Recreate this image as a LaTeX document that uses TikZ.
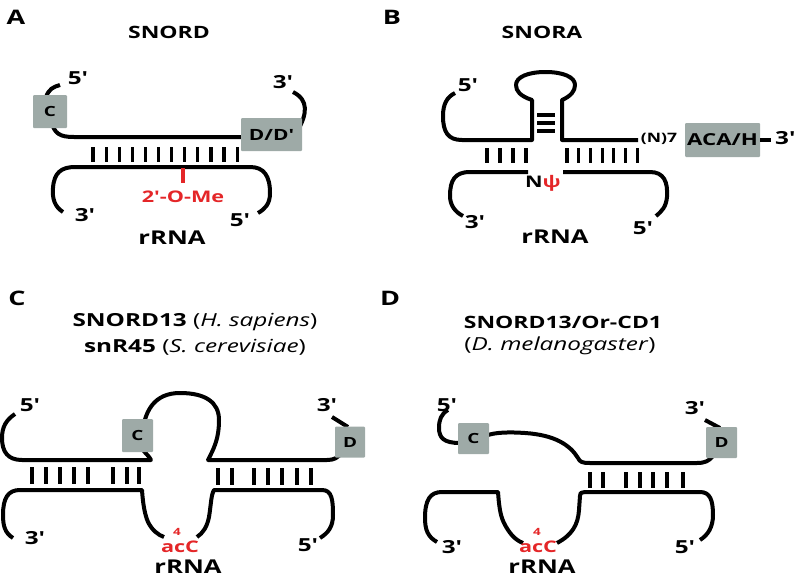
\documentclass[tikz,border=0pt]{standalone}
\usepackage{fontspec}
\setmainfont{Open Sans}[FakeStretch=1.35]
\usetikzlibrary{positioning}
\definecolor{boxgray}{RGB}{158,170,167}
\definecolor{modred}{RGB}{228,38,40}
\tikzset{strand/.style={line width=4pt, line join=round},
         pair/.style={line width=3.2pt},
         motif/.style={fill=boxgray, rounded corners=1pt, inner sep=0pt, font=\bfseries\fontsize{14}{14}\selectfont},
         lab/.style={font=\bfseries\fontsize{18}{18}\selectfont, inner sep=0pt},
         title/.style={font=\bfseries\fontsize{17}{17}\selectfont, inner sep=0pt},
         panel/.style={font=\bfseries\fontsize{20}{20}\selectfont, inner sep=0pt},
         mod/.style={font=\bfseries\fontsize{16}{16}\selectfont, text=modred, inner sep=0pt}}
\begin{document}
\begin{tikzpicture}[x=1pt, y=-1pt]
\useasboundingbox (0,0) rectangle (796,581);
% A: SNORD
\node[panel] (pA) at (16,17) {A};
\node[title] (tA) at (169,32) {SNORD};
\draw[strand] (46,97) .. controls (49,89) and (53,87) .. (60,85);
\draw[strand] (51,120) .. controls (54,134) and (60,137) .. (74,137) -- (250,137);
\draw[strand] (298,130) .. controls (307,114) and (309,100) .. (293,92);
\foreach \i in {0,...,11} \draw[pair] (93+\i*13.1,147) -- ++(0,15);
\draw[strand] (63,212) .. controls (55,207) and (52,199) .. (53,188) .. controls (54,173) and (61,167) .. (75,167) -- (250,167) .. controls (264,167) and (270,176) .. (270,193) .. controls (270,204) and (265,209) .. (258,213);
\draw[strand, modred] (183,168) -- (183,183);
\node[motif, minimum width=34pt, minimum height=33pt] (cA) at (50,111.5) {C};
\node[motif, minimum width=61pt, minimum height=33pt, font=\bfseries\fontsize{15.5}{15.5}\selectfont] (dA) at (271.5,134.5) {D/D′};
\node[lab] (fiveA) at (78,78) {5′};
\node[lab] (threeA) at (283,82) {3′};
\node[mod] (meA) at (183,197) {2′-O-Me};
\node[lab] (rthreeA) at (85,215) {3′};
\node[lab] (rfiveA) at (240,220) {5′};
\node[lab, font=\bfseries\fontsize{19}{19}\selectfont] (rA) at (172,238) {rRNA};
% B: SNORA
\node[panel] (pB) at (392,17) {B};
\node[title] (tB) at (542,32) {SNORA};
\draw[strand] (455,93) .. controls (447,97) and (443,104) .. (443,116) .. controls (443,132) and (448,140) .. (462,140) -- (532,140) -- (532,100) .. controls (520,96) and (516,91) .. (516,85) .. controls (516,77) and (528,72) .. (545.5,72) .. controls (563,72) and (575,77) .. (575,85) .. controls (575,91) and (571,96) .. (562,100) -- (562,140) -- (638,140);
\foreach \y in {115,123,131} \draw[line width=3.2pt] (537,\y) -- (555,\y);
\foreach \x in {487,500,513,526} \draw[pair] (\x,148) -- ++(0,15);
\foreach \i in {0,...,6} \draw[pair] (567+\i*11.7,148) -- ++(0,15);
\draw[strand] (463,216) .. controls (455,212) and (450,205) .. (450,196) .. controls (450,180) and (455,172) .. (470,172) -- (528,172);
\draw[strand] (563,172) -- (650,172) .. controls (664,172) and (668,182) .. (667,197) .. controls (666,207) and (662,211) .. (656,216);
\node[motif, minimum width=75pt, minimum height=34pt, font=\bfseries\fontsize{16.5}{16.5}\selectfont] (acaB) at (722.5,140) {ACA/H};
\coordinate (endB) at (771,140);
\draw[strand] (acaB.east) -- (endB);
\node[lab, font=\bfseries\fontsize{13}{13}\selectfont] (nB) at (659,139) {(N)7};
\node[lab, anchor=west] (threeB) at (775,138) {3′};
\node[lab] (fiveB) at (468,85) {5′};
\node[lab, font=\bfseries\fontsize{16}{16}\selectfont] (psiB) at (543,183) {N\textcolor{modred}{ψ}};
\node[lab] (rthreeB) at (475,222) {3′};
\node[lab] (rfiveB) at (643,228) {5′};
\node[lab, font=\bfseries\fontsize{19}{19}\selectfont] (rB) at (555,237) {rRNA};
% C: SNORD13 / snR45
\node[panel] (pC) at (17,298) {C};
\node[title, font=\bfseries\fontsize{18}{18}\selectfont] (tC) at (195,322) {SNORD13 \mdseries(\textit{H. sapiens})};
\node[title, font=\bfseries\fontsize{18}{18}\selectfont] (tC2) at (195,347) {snR45 \mdseries(\textit{S. cerevisiae})};
\draw[strand] (15,414) .. controls (6,420) and (2,427) .. (2,438) .. controls (2,452) and (8,460) .. (22,460) -- (151,460) .. controls (149,456) and (146,454) .. (143,450);
\draw[strand] (142,440) .. controls (143,410) and (155,393) .. (180,393) .. controls (205,393) and (219,402) .. (219,420) .. controls (219,440) and (213,450) .. (208,460) -- (327,460) .. controls (334,460) and (338,458) .. (342,452);
\draw[strand] (332,417) -- (348,427);
\foreach \x in {32,46,60,74,88,113,127,139} \draw[pair] (\x,467) -- ++(0,17);
\foreach \x in {218,232,254,268,282,297,311} \draw[pair] (\x,468) -- ++(0,17);
\draw[strand] (13,538) .. controls (5,533) and (3,526) .. (3,515) .. controls (3,498) and (8,490) .. (20,490) -- (142,490) .. controls (143,505) and (145,515) .. (148,522) .. controls (152,530) and (158,535) .. (164,537);
\draw[strand] (197,537) .. controls (203,533) and (207,527) .. (209,517) .. controls (211,505) and (211,495) .. (214,490) -- (322,490) .. controls (332,490) and (333,500) .. (333,515) .. controls (333,527) and (328,533) .. (320,538);
\node[motif, minimum width=31pt, minimum height=33pt] (cC) at (137.5,435.5) {C};
\node[motif, minimum width=30pt, minimum height=31pt] (dC) at (350,442) {D};
\node[lab] (fiveC) at (30,405) {5′};
\node[lab] (threeC) at (327,405) {3′};
\node[mod] (acC) at (180,547) {acC};
\node[mod, font=\bfseries\fontsize{10}{10}\selectfont] (fourC) at (177,532) {4};
\node[lab] (rthreeC) at (35,538) {3′};
\node[lab] (rfiveC) at (308,545) {5′};
\node[lab, font=\bfseries\fontsize{19}{19}\selectfont] (rC) at (188,567) {rRNA};
% D: SNORD13/Or-CD1
\node[panel] (pD) at (390,298) {D};
\node[title] (tD) at (563,322) {SNORD13/Or-CD1};
\node[title, font=\fontsize{18}{18}\selectfont] (tD2) at (560,346) {(\textit{D. melanogaster})};
\draw[strand] (448,410) .. controls (441,414) and (439,420) .. (439,428) .. controls (439,438) and (444,443) .. (460,443);
\draw[strand] (485,436) .. controls (495,432) and (510,432) .. (525,433) .. controls (555,435) and (570,445) .. (578,458) .. controls (580,462) and (582,463) .. (590,463) -- (697,463) .. controls (705,463) and (709,461) .. (713,456);
\draw[strand] (705,420) -- (720,428);
\foreach \x in {590,603,626,640,653,667,683} \draw[pair] (\x,472) -- ++(0,16);
\draw[strand] (437,542) .. controls (428,537) and (425,530) .. (425,518) .. controls (425,500) and (430,492) .. (442,492) -- (498,492) .. controls (499,505) and (500,515) .. (504,523) .. controls (509,533) and (515,540) .. (523,543);
\draw[strand] (557,543) .. controls (572,535) and (578,525) .. (579,510) -- (580,496) .. controls (580,493) .. (585,492) -- (700,492) .. controls (710,492) and (713,500) .. (713,515) .. controls (713,527) and (708,535) .. (700,540);
\node[motif, minimum width=31pt, minimum height=31pt] (cD) at (473.5,438.5) {C};
\node[motif, minimum width=31pt, minimum height=31pt] (dD) at (721.5,442.5) {D};
\node[lab] (fiveD) at (447,405) {5′};
\node[lab] (threeD) at (695,408) {3′};
\node[mod] (acD) at (538,547) {acC};
\node[mod, font=\bfseries\fontsize{10}{10}\selectfont] (fourD) at (537,532) {4};
\node[lab] (rthreeD) at (452,547) {3′};
\node[lab] (rfiveD) at (685,547) {5′};
\node[lab, font=\bfseries\fontsize{19}{19}\selectfont] (rD) at (542,567) {rRNA};
\end{tikzpicture}
\end{document}
